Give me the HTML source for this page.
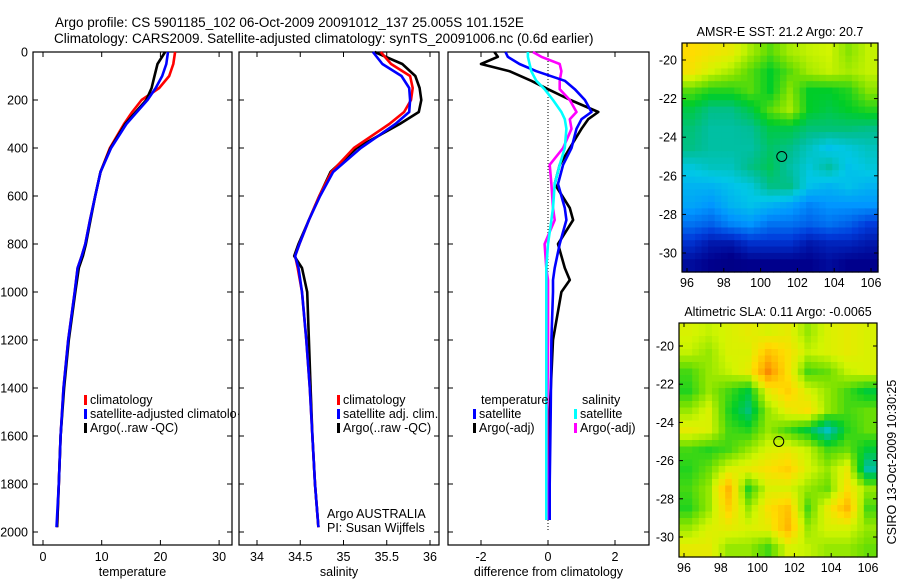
<!DOCTYPE html>
<html><head><meta charset="utf-8">
<style>
html,body{margin:0;padding:0;background:#fff;}
svg{display:block;font-family:"Liberation Sans",Arial,sans-serif;}
</style></head>
<body>
<svg id="fig" width="900" height="580" viewBox="0 0 900 580" xmlns="http://www.w3.org/2000/svg">
<text x="55" y="27" font-size="13.5">Argo profile: CS 5901185_102 06-Oct-2009 20091012_137 25.005S 101.152E</text>
<text x="54" y="43" font-size="13.5">Climatology: CARS2009. Satellite-adjusted climatology: synTS_20091006.nc (0.6d earlier)</text>
<g id="g1"></g>
<g id="g2"></g>
<g id="g3"></g>
<g id="m1"></g>
<g id="m2"></g>
<text x="0" y="0" font-size="12.5" transform="translate(896,462) rotate(-90)" text-anchor="middle">CSIRO 13-Oct-2009 10:30:25</text>
</svg>
<script>
const depths=[0,50,100,150,200,250,300,400,500,600,700,800,850,900,1000,1200,1400,1600,1800,1980];
const tempClim=[22.5,22.2,21.5,19.8,16.8,15.2,13.8,11.4,9.8,8.9,8.0,7.2,6.6,5.9,5.4,4.3,3.5,3.0,2.7,2.4];
const tempSat=[21.3,21.0,20.3,19.2,17.8,16.0,14.2,11.6,9.8,8.9,8.0,7.2,6.6,5.9,5.4,4.3,3.5,3.0,2.7,2.3];
const tempArgo=[20.8,19.5,19.0,18.5,17.6,15.8,14.0,11.5,9.8,8.9,8.1,7.3,6.8,6.1,5.5,4.4,3.6,3.0,2.7,2.4];
const salClim=[35.43,35.55,35.77,35.8,35.78,35.7,35.53,35.12,34.86,34.72,34.6,34.49,34.44,34.47,34.52,34.57,34.61,34.64,34.67,34.71];
const salSat=[35.34,35.45,35.67,35.76,35.77,35.76,35.6,35.2,34.88,34.73,34.6,34.49,34.44,34.48,34.52,34.57,34.61,34.64,34.67,34.71];
const salArgo=[35.36,35.68,35.83,35.88,35.9,35.87,35.65,35.15,34.85,34.72,34.6,34.48,34.43,34.52,34.58,34.6,34.62,34.64,34.67,34.71];
const diffDepths=[0,20,50,80,120,155,200,250,280,320,400,470,550,650,700,800,900,950,1000,1200,1500,1800,1950];
const dTempArgo=[-1.6,-1.5,-2.0,-1.15,-0.5,0,0.67,1.5,1.2,1.0,0.65,0.35,0.2,0.65,0.75,0.3,0.5,0.65,0.4,0.15,0.05,0,0];
const dTempSat=[-1.27,-1.2,-0.85,-0.35,0.5,0.8,1.1,1.3,1.0,0.85,0.7,0.45,0.3,0.5,0.55,0.35,0.2,0.15,0.15,0.1,0.08,0.05,0.05];
const dSalSat=[-0.6,-0.6,-0.55,-0.5,-0.35,-0.1,0.15,0.4,0.5,0.55,0.5,0.35,0.2,0.15,0.1,0,-0.05,-0.05,-0.05,-0.05,-0.05,-0.05,-0.05];
const dSalArgo=[-0.45,-0.2,0.35,0.4,0.35,0.35,0.65,0.85,0.65,0.7,0.45,0.05,0.1,0.15,0.2,-0.1,-0.05,0,0,0,-0.02,-0.02,-0.02];
const depthTicks=[0,200,400,600,800,1000,1200,1400,1600,1800,2000];
const tempTicks=[0,10,20,30];
const salTicks=[34,34.5,35,35.5,36];
const diffTicks=[-2,0,2];
const lonTicks=[96,98,100,102,104,106];
const latTicks=[-20,-22,-24,-26,-28,-30];
const sstGrid=[
[.7,.68,.66,.6,.55,.6,.62,.63,.58,.62],
[.68,.63,.6,.55,.5,.55,.6,.62,.6,.62],
[.55,.52,.52,.55,.5,.58,.5,.5,.52,.58],
[.48,.44,.44,.48,.55,.6,.5,.48,.5,.52],
[.45,.42,.42,.43,.48,.48,.45,.45,.45,.44],
[.44,.42,.42,.42,.46,.44,.40,.36,.38,.40],
[.38,.40,.40,.44,.47,.42,.38,.42,.36,.38],
[.34,.34,.36,.38,.44,.44,.36,.34,.36,.34],
[.32,.30,.34,.36,.34,.32,.28,.30,.30,.30],
[.26,.24,.28,.30,.26,.26,.24,.26,.24,.20],
[.18,.14,.14,.18,.18,.18,.14,.16,.16,.14],
[.12,.1,.08,.1,.1,.1,.1,.12,.1,.1]];
const slaGrid=[
[.64,.62,.64,.66,.64,.66,.59,.64,.66,.64],
[.62,.59,.64,.64,.74,.69,.62,.64,.66,.64],
[.54,.59,.62,.66,.82,.69,.54,.56,.62,.64],
[.52,.59,.54,.49,.66,.72,.64,.59,.54,.49],
[.59,.64,.52,.45,.59,.66,.69,.59,.54,.56],
[.66,.64,.54,.52,.59,.54,.49,.40,.52,.56],
[.54,.52,.54,.59,.64,.66,.62,.54,.56,.49],
[.52,.56,.64,.66,.69,.72,.64,.59,.66,.42],
[.54,.59,.76,.52,.64,.64,.59,.56,.69,.59],
[.52,.59,.72,.59,.69,.74,.54,.66,.76,.54],
[.59,.64,.66,.64,.66,.76,.59,.64,.64,.59],
[.66,.66,.59,.59,.54,.64,.62,.59,.59,.56]];
const sstTitle="AMSR-E SST: 21.2 Argo: 20.7";
const slaTitle="Altimetric SLA: 0.11 Argo: -0.0065";

const NS="http://www.w3.org/2000/svg";
function mk(parent,tag,attrs,text){const e=document.createElementNS(NS,tag);for(const k in attrs)e.setAttribute(k,attrs[k]);if(text!==undefined)e.textContent=text;parent.appendChild(e);return e;}
const Y0=52,Y1=545;
const yD=d=>52+d*0.24;

function panel(g,x0,x1,xs,ticks,fmt,label,showY){
  const box=mk(g,'rect',{x:x0,y:Y0,width:x1-x0,height:Y1-Y0,fill:'none',stroke:'#000','stroke-width':1.2});
  
  ticks.forEach(t=>{const x=xs(t);
    mk(g,'line',{x1:x,x2:x,y1:Y1,y2:Y1-5,stroke:'#000'});
    mk(g,'line',{x1:x,x2:x,y1:Y0,y2:Y0+5,stroke:'#000'});
    const tl=mk(g,'text',{x:x,y:Y1+16,'font-size':12.5,'text-anchor':'middle'},fmt(t));
    });
  depthTicks.forEach(d=>{const y=yD(d);
    mk(g,'line',{x1:x0,x2:x0+5,y1:y,y2:y,stroke:'#000'});
    mk(g,'line',{x1:x1,x2:x1-5,y1:y,y2:y,stroke:'#000'});
    if(showY){const yl=mk(g,'text',{x:x0-5,y:y+4.5,'font-size':12.5,'text-anchor':'end'},String(d));
      }});
  const xl=mk(g,'text',{x:(x0+x1)/2,y:Y1+31,'font-size':12.5,'text-anchor':'middle'},label);
  
}
function line(g,xs,vals,ds,color,name){
  const pts=vals.map((v,i)=>xs(v).toFixed(1)+','+yD(ds[i]).toFixed(1)).join(' ');
  const p=mk(g,'polyline',{points:pts,fill:'none',stroke:color,'stroke-width':2.6,'stroke-linejoin':'round'});
  
}
function legend(g,x,y,color,text,name){
  mk(g,'rect',{x:x,y:y-9,width:3,height:10,fill:color});
  const t=mk(g,'text',{x:x+6,y:y,'font-size':12.5},text);
  
}
// Panel 1
const g1=document.getElementById('g1');
const xT=v=>43+v*5.87;
panel(g1,33,232,xT,tempTicks,String,'temperature',true);
line(g1,xT,tempClim,depths,'#ff0000','temp-climatology-line');
line(g1,xT,tempArgo,depths,'#000000','temp-argo-line');
line(g1,xT,tempSat,depths,'#0000ff','temp-satellite-line');
legend(g1,84,404,'#ff0000','climatology','legend-climatology');
legend(g1,84,418,'#0000ff','satellite-adjusted climatolo\u00b7','legend-satellite');
legend(g1,84,432,'#000000','Argo(..raw -QC)','legend-argo');
// Panel 2
const g2=document.getElementById('g2');
const xS=v=>257+(v-34)*86.5;
panel(g2,239,439,xS,salTicks,String,'salinity',false);
line(g2,xS,salArgo,depths,'#000000','sal-argo-line');
line(g2,xS,salClim,depths,'#ff0000','sal-climatology-line');
line(g2,xS,salSat,depths,'#0000ff','sal-satellite-line');
legend(g2,337,404,'#ff0000','climatology','legend-climatology');
legend(g2,337,418,'#0000ff','satellite adj. clim.','legend-satellite');
legend(g2,337,432,'#000000','Argo(..raw -QC)','legend-argo');
mk(g2,'text',{x:327,y:518,'font-size':12.5},'Argo AUSTRALIA');
mk(g2,'text',{x:327,y:532,'font-size':12.5},'PI: Susan Wijffels');
// Panel 3
const g3=document.getElementById('g3');
const xDf=v=>548+v*33.5;
panel(g3,448,649,xDf,diffTicks,String,'difference from climatology',false);
mk(g3,'line',{x1:548,x2:548,y1:Y0,y2:532,stroke:'#000','stroke-dasharray':'1,2'});
line(g3,xDf,dTempArgo,diffDepths,'#000000','dtemp-argo-line');
line(g3,xDf,dSalArgo,diffDepths,'#ff00ff','dsal-argo-line');
line(g3,xDf,dTempSat,diffDepths,'#0000ff','dtemp-satellite-line');
line(g3,xDf,dSalSat,diffDepths,'#00ffff','dsal-satellite-line');
mk(g3,'text',{x:481,y:404,'font-size':12.5},'temperature');
mk(g3,'text',{x:582,y:404,'font-size':12.5},'salinity');
legend(g3,473,418,'#0000ff','satellite','legend-temp-satellite');
legend(g3,473,432,'#000000','Argo(-adj)','legend-temp-argo');
legend(g3,574,418,'#00ffff','satellite','legend-sal-satellite');
legend(g3,574,432,'#ff00ff','Argo(-adj)','legend-sal-argo');
// Maps
const cmapStops=[[0,0,0,110],[0.1,0,0,140],[0.2,0,60,220],[0.3,0,150,255],[0.37,0,200,230],[0.43,0,190,150],[0.5,0,205,40],[0.57,120,225,0],[0.63,210,245,0],[0.7,255,220,0],[0.78,255,170,0],[0.9,240,80,0],[1,180,0,0]];
function cmap(v){v=Math.max(0,Math.min(1,v));
  for(let i=1;i<cmapStops.length;i++){const a=cmapStops[i-1],b=cmapStops[i];
    if(v<=b[0]){const f=(v-a[0])/(b[0]-a[0]);
      return 'rgb('+[1,2,3].map(k=>Math.round(a[k]+f*(b[k]-a[k]))).join(',')+')';}}
  return 'rgb(180,0,0)';}
function sample(grid,fr,fc){
  const R=grid.length,C=grid[0].length;
  fr=Math.max(0,Math.min(R-1,fr));fc=Math.max(0,Math.min(C-1,fc));
  const r0=Math.floor(fr),c0=Math.floor(fc),r1=Math.min(R-1,r0+1),c1=Math.min(C-1,c0+1),a=fr-r0,b=fc-c0;
  return grid[r0][c0]*(1-a)*(1-b)+grid[r0][c1]*(1-a)*b+grid[r1][c0]*a*(1-b)+grid[r1][c1]*a*b;}
function map(g,grid,left,right,top,bottom,lonA,lonB,latA,latB,title){
  const lx=lon=>lonA[1]+(lon-lonA[0])*(lonB[1]-lonA[1])/(lonB[0]-lonA[0]);
  const ly=lat=>latA[1]+(lat-latA[0])*(latB[1]-latA[1])/(latB[0]-latA[0]);
  const rows=grid.length,cols=grid[0].length,S=3;
  const cw=(right-left)/(cols*S),ch=(bottom-top)/(rows*S);
  for(let r=0;r<rows*S;r++)for(let c=0;c<cols*S;c++){
    const v=sample(grid,(r+0.5)/S-0.5,(c+0.5)/S-0.5);
    const cell=mk(g,'rect',{x:(left+c*cw).toFixed(2),y:(top+r*ch).toFixed(2),width:(cw+0.6).toFixed(2),height:(ch+0.6).toFixed(2),fill:cmap(v)});
    }
  mk(g,'rect',{x:left,y:top,width:right-left,height:bottom-top,fill:'none',stroke:'#000','stroke-width':1.2});
  lonTicks.forEach(t=>{const x=lx(t);
    mk(g,'line',{x1:x,x2:x,y1:bottom,y2:bottom-4,stroke:'#000'});mk(g,'line',{x1:x,x2:x,y1:top,y2:top+4,stroke:'#000'});
    const tl=mk(g,'text',{x:x,y:bottom+15,'font-size':12.5,'text-anchor':'middle'},String(t));
    });
  latTicks.forEach(t=>{const y=ly(t);
    mk(g,'line',{x1:left,x2:left+4,y1:y,y2:y,stroke:'#000'});mk(g,'line',{x1:right,x2:right-4,y1:y,y2:y,stroke:'#000'});
    const tl=mk(g,'text',{x:left-5,y:y+4.5,'font-size':12.5,'text-anchor':'end'},String(t));
    });
  const c=mk(g,'circle',{cx:lx(101.15),cy:ly(-25.0),r:5,fill:'none',stroke:'#000','stroke-width':1});
  
  const tt=mk(g,'text',{x:(left+right)/2,y:top-7,'font-size':12.5,'text-anchor':'middle'},title);
  
}
map(document.getElementById('m1'),sstGrid,682,878,43,272,[96,687],[106,871],[-20,60],[-30,253],sstTitle);
map(document.getElementById('m2'),slaGrid,679,877,323,557,[96,684],[106,868],[-20,346],[-30,537],slaTitle);
</script>
</body></html>
